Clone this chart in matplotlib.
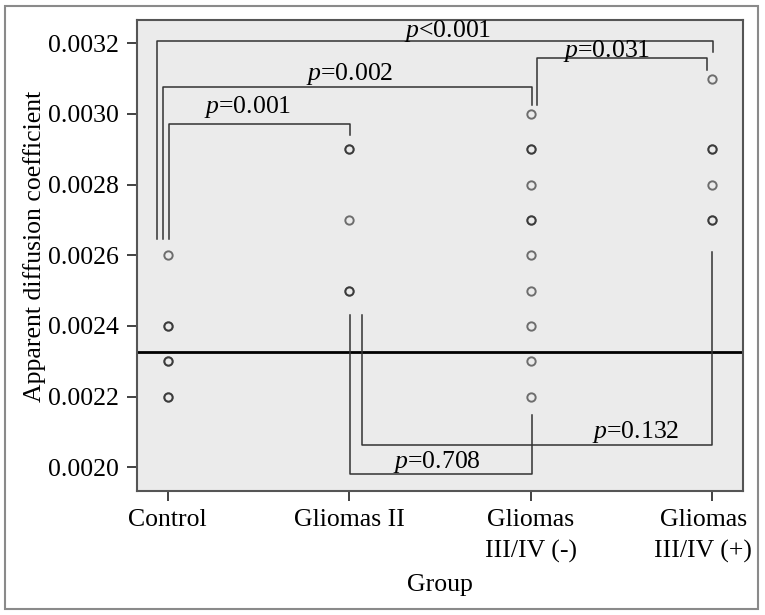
import matplotlib.pyplot as plt
import matplotlib.transforms as mtransforms
from matplotlib.patches import Rectangle

groups = ['Control', 'Gliomas II', 'Gliomas\nIII/IV (-)', 'Gliomas\nIII/IV (+)']
# repeated values = overlapping cases (drawn darker)
control = [0.0026, 0.0024, 0.0024, 0.0023, 0.0023, 0.0022, 0.0022]
gliomas_2 = [0.0029, 0.0029, 0.0027, 0.0025, 0.0025]
gliomas_34_neg = [0.0030, 0.0029, 0.0029, 0.0028, 0.0027, 0.0027, 0.0026,
                  0.0025, 0.0024, 0.0023, 0.0022]
gliomas_34_pos = [0.0031, 0.0029, 0.0029, 0.0028, 0.0027, 0.0027]
cutoff = 0.002327

# brackets: x1, x2, level, end of left leg, end of right leg, label, label x, label y
brackets = [
    (-0.057, 3.003, 0.003207, 0.002645, 0.003176, '<0.001', 1.544, 0.003219),
    (-0.026, 2.006, 0.003077, 0.002645, 0.003025, '=0.002', 1.004, 0.003096),
    (0.009, 1.004, 0.002973, 0.002645, 0.002940, '=0.001', 0.440, 0.003003),
    (2.033, 2.970, 0.003158, 0.003025, 0.003124, '=0.031', 2.420, 0.003162),
    (1.004, 2.006, 0.001980, 0.002430, 0.002147, '=0.708', 1.484, 0.001998),
    (1.072, 3.000, 0.002062, 0.002430, 0.002610, '=0.132', 2.580, 0.002083),
]

plt.rcParams['font.family'] = ['Liberation Serif', 'DejaVu Serif']
plt.rcParams['mathtext.fontset'] = 'custom'
plt.rcParams['mathtext.rm'] = 'Liberation Serif'
plt.rcParams['mathtext.it'] = 'Liberation Serif:italic'

fig = plt.figure(figsize=(7.65, 6.15), dpi=100)
fig.patches.append(Rectangle((5 / 765, 6 / 615), 753 / 765, 603 / 615,
                             transform=fig.transFigure, fill=False,
                             edgecolor='#8a8a8a', linewidth=1.5))
ax = fig.add_axes([137 / 765, 1 - 491 / 615, 606 / 765, 471 / 615])
ax.set_facecolor('#ebebeb')

for i, vals in enumerate([control, gliomas_2, gliomas_34_neg, gliomas_34_pos]):
    ax.plot([i] * len(vals), vals, linestyle='none', marker='o', markersize=6,
            markerfacecolor='none', markeredgecolor='#1a1a1a',
            markeredgewidth=1.4, alpha=0.6)

ax.axhline(cutoff, color='black', linewidth=2)

for x1, x2, lev, yl, yr, lab, tx, ty in brackets:
    ax.plot([x1, x1, x2, x2], [yl, lev, lev, yr], color='#333333', linewidth=1.1)
    ax.text(tx, ty, r'$\it{p}$' + lab, ha='center', va='baseline', fontsize=18.5)

ax.set_xlim(-0.169, 3.169)
ax.set_ylim(0.001933, 0.003266)
ax.set_xticks(range(4))
ax.set_xticklabels(groups, fontsize=18.5, linespacing=1.5)
ax.set_yticks([0.0020, 0.0022, 0.0024, 0.0026, 0.0028, 0.0030, 0.0032])
ax.set_yticklabels(['0.0020', '0.0022', '0.0024', '0.0026', '0.0028',
                    '0.0030', '0.0032'], fontsize=18.5)
ax.tick_params(length=7, width=1.3, color='#333333', pad=6)
for s in ax.spines.values():
    s.set_color('#555555')
    s.set_linewidth(1.5)

# last label sits a little left of its tick, as in the original
last = ax.get_xticklabels()[-1]
last.set_transform(last.get_transform() +
                   mtransforms.ScaledTranslation(-0.09, 0, fig.dpi_scale_trans))

ax.set_xlabel('Group', fontsize=18.5, labelpad=8)
ax.set_ylabel('Apparent diffusion coefficient', fontsize=18.5)
ax.yaxis.set_label_coords(-0.150, 0.52)

fig.savefig('out.png', dpi=100)
